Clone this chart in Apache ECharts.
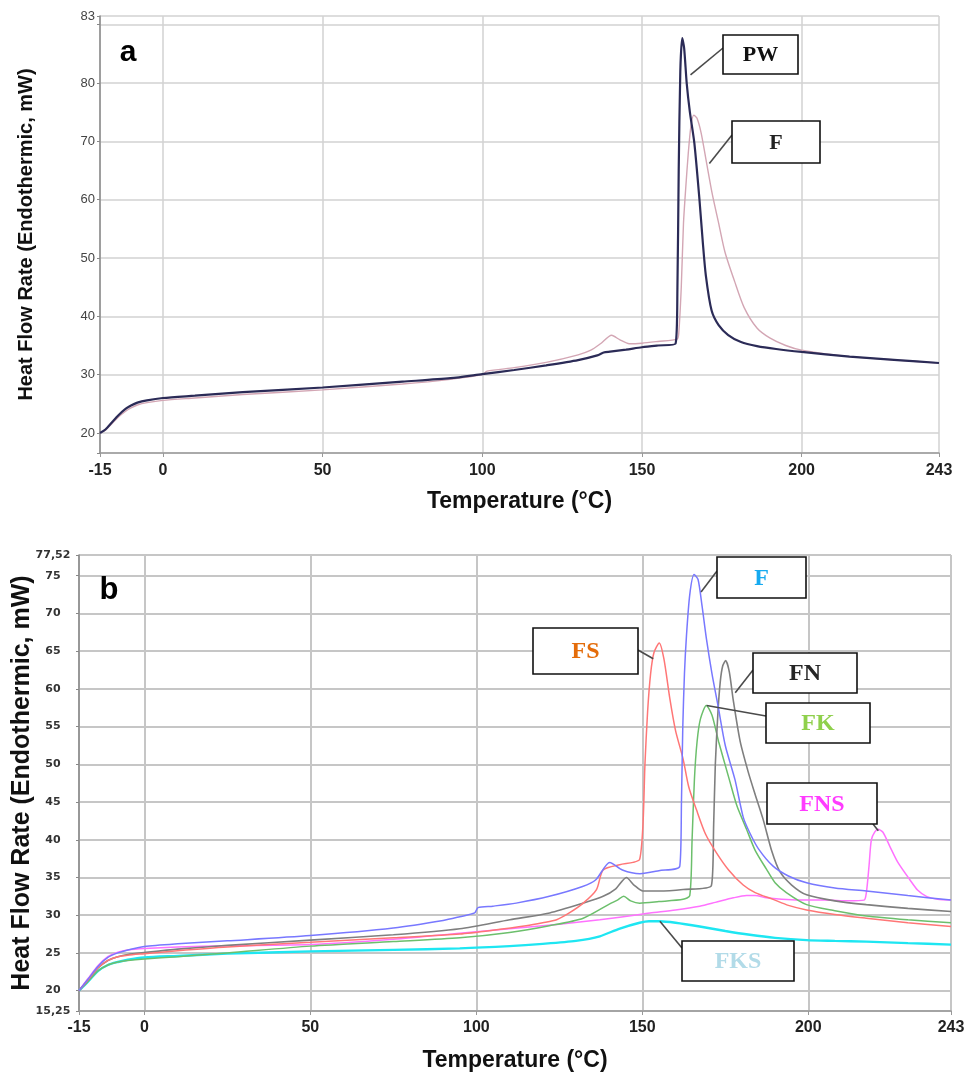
<!DOCTYPE html>
<html>
<head>
<meta charset="utf-8">
<script src="https://cdn.jsdelivr.net/npm/echarts@6/dist/echarts.min.js"></script>
<style>
html, body { margin: 0; padding: 0; background: #fff; }
#chart { width: 969px; height: 1079px; }
</style>
</head>
<body>
<div id="chart"></div>
<script>
// axis ticks (the source chart labels its ends oddly: "-15", "83", "15,25", "77,52")
var xTicks = [-19.7, 0, 50, 100, 150, 200, 243];
var xTickLabels = ['-15', '0', '50', '100', '150', '200', '243'];
var aYTicks = [16.57, 20, 30, 40, 50, 60, 70, 80, 90, 91.5];
var aYTickLabels = ['', '20', '30', '40', '50', '60', '70', '80', '', '83'];
var bYTicks = [17.3, 20, 25, 30, 35, 40, 45, 50, 55, 60, 65, 70, 75, 77.75];
var bYTickLabels = ['15,25', '20', '25', '30', '35', '40', '45', '50', '55', '60', '65', '70', '75', '77,52'];

// panel a
var aPwT = [-19.7, -18, -16, -14, -12, -10, -8, -5, 0, 10, 25, 50, 75, 90, 100, 110, 120, 130, 136, 138, 140, 145, 150, 155, 160.5, 161.1, 161.5, 162, 162.6, 163.2, 164, 165, 166.4, 168, 169, 170, 171.8, 174, 177, 181, 186, 192, 200, 215, 230, 243];
var aPwY = [20, 20.6, 21.8, 23, 24, 24.7, 25.2, 25.6, 26.0, 26.4, 27.0, 27.8, 28.8, 29.4, 30.1, 30.8, 31.6, 32.5, 33.3, 33.8, 33.95, 34.3, 34.7, 35.0, 35.3, 45, 65, 82, 87.7, 86, 80, 75, 69.7, 60, 53, 47, 41, 38.5, 36.8, 35.6, 34.9, 34.4, 33.9, 33.1, 32.5, 32.0];
var aFT = [-19.7, -18, -16, -14, -12, -10, -8, -5, 0, 10, 25, 50, 75, 90, 100, 101.5, 110, 120, 130, 134, 137, 140.5, 143, 146, 150, 155, 161, 161.5, 162.3, 163, 163.7, 164.5, 165.3, 166.2, 167.2, 168.5, 170, 172, 174, 176, 179, 182, 186, 190, 195, 200, 215, 230, 243];
var aFY = [20, 20.5, 21.6, 22.7, 23.6, 24.3, 24.8, 25.2, 25.6, 26.0, 26.6, 27.4, 28.4, 29.2, 30.0, 30.6, 31.2, 32.1, 33.4, 34.2, 35.3, 36.75, 36.0, 35.3, 35.4, 35.7, 36.1, 37, 45, 56, 62, 68, 72.5, 74.5, 74, 71.5, 67, 61, 56, 51, 46, 41.5, 38, 36.3, 35, 34.2, 33.1, 32.5, 32.0];

// panel b
var bFT = [-19.7, -17, -14, -11, -8, -5, 0, 10, 25, 50, 75, 90, 95, 99.5, 100.5, 105, 112, 122, 132, 136, 140.2, 144, 149.3, 155, 161.3, 161.8, 162.2, 162.7, 163.3, 164.3, 165.6, 166.8, 168, 169.3, 171, 172.8, 175, 177.9, 180.4, 182.4, 185, 189.4, 194, 199.5, 208, 217.5, 230, 243];
var bFY = [20, 21.5, 23.2, 24.4, 25.0, 25.4, 25.85, 26.2, 26.6, 27.3, 28.3, 29.3, 29.8, 30.3, 31.0, 31.2, 31.6, 32.5, 33.8, 34.7, 37.0, 36.0, 35.5, 35.9, 36.5, 45, 55, 62, 67, 72.5, 75.15, 74.5, 71, 66.7, 62, 57.8, 52.5, 48, 43, 40.9, 38.8, 36.5, 35.2, 34.3, 33.6, 33.2, 32.6, 32.0];
var bFsT = [-19.7, -17, -14, -11, -8, -5, 0, 10, 25, 50, 75, 95, 105, 115, 120, 124.2, 128, 132.2, 136.2, 138.2, 143.2, 147.2, 149.2, 150.2, 150.8, 151.6, 152.5, 153.5, 155.1, 156.5, 158.3, 160, 162.3, 164, 166.3, 169, 172.3, 176, 180.4, 184, 189.4, 194, 199.5, 208, 217.5, 230, 243];
var bFsY = [20, 21.4, 23.0, 24.0, 24.5, 24.7, 24.9, 25.3, 25.8, 26.4, 27.0, 27.5, 28.0, 28.6, 29.0, 29.4, 30.3, 31.6, 33.4, 36.0, 36.7, 37.0, 37.4, 42, 50, 57, 62, 64.8, 66.1, 64, 58.7, 54.5, 50.7, 47, 44.0, 40.8, 38.3, 36.0, 34.0, 33.0, 32.1, 31.3, 30.7, 30.1, 29.6, 29.0, 28.5];
var bFnT = [-19.7, -17, -14, -11, -8, -5, 0, 10, 25, 50, 75, 95, 110.1, 122.1, 132.2, 138.2, 142, 145.2, 147.5, 150.2, 155, 162.3, 170.8, 171.5, 172, 172.8, 173.5, 174.2, 175.1, 176.2, 177.4, 179.5, 181.9, 184, 186.4, 189, 191.4, 195, 199.5, 208, 217.5, 230, 243];
var bFnY = [20, 21.4, 23.0, 24.0, 24.5, 24.8, 25.05, 25.5, 26.0, 26.7, 27.4, 28.2, 29.4, 30.3, 31.6, 32.5, 33.5, 35.0, 34.0, 33.2, 33.2, 33.4, 33.9, 42, 50, 57, 61, 63, 63.75, 62.3, 58.5, 53, 49, 46, 42.7, 38.5, 35.8, 34, 32.7, 31.9, 31.4, 30.9, 30.5];
var bFkT = [-19.7, -17, -14, -11, -8, -5, 0, 10, 25, 50, 75, 95, 110, 122, 132.2, 140.2, 142.5, 144.4, 146.5, 149.2, 155, 162.3, 164.3, 165, 165.7, 166.5, 167.5, 169.3, 171, 173, 176.2, 178.5, 181.4, 184, 187.4, 190, 193.4, 199.5, 208, 217.5, 230, 243];
var bFkY = [20, 21.2, 22.6, 23.4, 23.8, 24.0, 24.2, 24.5, 25.0, 25.9, 26.5, 27.0, 27.7, 28.6, 29.6, 31.5, 32.0, 32.5, 31.9, 31.6, 31.8, 32.1, 32.6, 40, 48, 53, 56, 57.8, 56.5, 53, 48, 44.5, 41.4, 38.6, 36.1, 34.3, 33.0, 31.4, 30.6, 29.9, 29.4, 29.0];
var bFnsT = [-19.7, -17, -14, -11, -8, -5, 0, 10, 25, 50, 75, 95, 110, 125, 137.2, 149.2, 152.3, 160, 167.3, 172, 177.4, 181.4, 184, 187.4, 192, 197.4, 205, 212, 216.8, 217.5, 218.3, 219, 220, 221, 222.5, 224.6, 227, 230.6, 233, 235.6, 239, 243];
var bFnsY = [20, 21.6, 23.3, 24.5, 25.1, 25.4, 25.6, 25.8, 25.95, 26.1, 26.8, 27.6, 28.2, 28.8, 29.4, 30.1, 30.3, 30.7, 31.2, 31.7, 32.3, 32.6, 32.6, 32.3, 32.1, 32.0, 32.0, 31.9, 32.0, 33.0, 36.5, 40.0, 41.0, 41.4, 41.0, 39.1, 37, 34.7, 33.3, 32.5, 32.1, 32.0];
var bFksT = [-19.7, -17, -14, -11, -8, -5, 0, 10, 25, 50, 75, 95, 110, 120, 130, 137.2, 143, 149.2, 152, 155.3, 160, 167.3, 175, 182.4, 190, 199.5, 208, 217.5, 230, 243];
var bFksY = [20, 21.2, 22.6, 23.4, 23.8, 24.1, 24.4, 24.6, 24.9, 25.2, 25.4, 25.6, 25.9, 26.2, 26.6, 27.2, 28.2, 29.0, 29.2, 29.2, 29.0, 28.5, 27.9, 27.4, 27.0, 26.7, 26.6, 26.5, 26.3, 26.1];

function pairs(t, y) {
    return t.map(function (v, i) { return [v, y[i]]; });
}

function tickFormatter(values, labels) {
    return function (v) {
        for (var i = 0; i < values.length; i++) {
            if (Math.abs(values[i] - v) < 1e-6) return labels[i];
        }
        return '';
    };
}

var SANS = '"Liberation Sans", Arial, sans-serif';
var SERIF = '"Liberation Serif", "Times New Roman", serif';

function xAxisFor(gi, nameGap, labelMargin, gridColor, gridWidth) {
    return {
        type: 'value', gridIndex: gi, min: xTicks[0], max: xTicks[xTicks.length - 1],
        name: 'Temperature (°C)', nameLocation: 'middle', nameGap: nameGap, nameMoveOverlap: false,
        nameTextStyle: { fontFamily: SANS, fontWeight: 'bold', fontSize: 23, color: '#111' },
        axisLine: { show: true, onZero: false, lineStyle: { color: '#999', width: 1.5 } },
        axisTick: { show: true, customValues: xTicks, length: 4, lineStyle: { color: '#999' } },
        axisLabel: {
            customValues: xTicks, formatter: tickFormatter(xTicks, xTickLabels),
            margin: labelMargin, fontFamily: SANS, fontWeight: 'bold', fontSize: 16, color: '#222'
        },
        splitLine: { show: true, lineStyle: { color: gridColor, width: gridWidth } }
    };
}

function line(name, gi, t, y, color, width) {
    return {
        name: name, type: 'line', xAxisIndex: gi, yAxisIndex: gi,
        data: pairs(t, y), showSymbol: false, smooth: 0.25,
        lineStyle: { color: color, width: width }, itemStyle: { color: color },
        silent: true
    };
}

var chart = echarts.init(document.getElementById('chart'), null, { renderer: 'canvas' });
chart.setOption({
    backgroundColor: '#fff',
    animation: false,
    grid: [
        { left: 100, top: 16, width: 839, height: 437, outerBoundsMode: 'none' },
        { left: 79, top: 555, width: 872, height: 456, outerBoundsMode: 'none' }
    ],
    xAxis: [
        xAxisFor(0, 37, 10, '#d2d2d2', 1.5),
        xAxisFor(1, 38, 9, '#c6c6c6', 2)
    ],
    yAxis: [
        {
            type: 'value', gridIndex: 0, min: aYTicks[0], max: aYTicks[aYTicks.length - 1],
            name: 'Heat Flow Rate (Endothermic, mW)', nameLocation: 'middle', nameGap: 64, nameMoveOverlap: false,
            nameTextStyle: { fontFamily: SANS, fontWeight: 'bold', fontSize: 20, color: '#111' },
            axisLine: { show: true, onZero: false, lineStyle: { color: '#888', width: 1.5 } },
            axisTick: { show: true, customValues: aYTicks, length: 3, lineStyle: { color: '#888' } },
            axisLabel: {
                customValues: aYTicks, formatter: tickFormatter(aYTicks, aYTickLabels),
                margin: 5, fontFamily: SANS, fontSize: 13, color: '#444'
            },
            splitLine: { show: true, lineStyle: { color: '#d2d2d2', width: 1.5 } }
        },
        {
            type: 'value', gridIndex: 1, min: bYTicks[0], max: bYTicks[bYTicks.length - 1],
            name: 'Heat Flow Rate (Endothermic, mW)', nameLocation: 'middle', nameGap: 44, nameMoveOverlap: false,
            nameTextStyle: { fontFamily: SANS, fontWeight: 'bold', fontSize: 25, color: '#111' },
            axisLine: { show: true, onZero: false, lineStyle: { color: '#888', width: 1.5 } },
            axisTick: { show: true, customValues: bYTicks, length: 3, lineStyle: { color: '#888' } },
            axisLabel: {
                customValues: bYTicks, formatter: tickFormatter(bYTicks, bYTickLabels),
                margin: 26, align: 'center', fontFamily: '"DejaVu Sans", Verdana, sans-serif',
                fontWeight: 'bold', fontSize: 11, color: '#333'
            },
            splitLine: { show: true, lineStyle: { color: '#c6c6c6', width: 2 } }
        }
    ],
    series: [
        line('F', 0, aFT, aFY, '#d3a6b4', 1.4),
        line('PW', 0, aPwT, aPwY, '#2b2b57', 2.2),
        line('FKS', 1, bFksT, bFksY, '#1ee6f2', 2.4),
        line('FNS', 1, bFnsT, bFnsY, '#ff72ff', 1.5),
        line('FK', 1, bFkT, bFkY, '#6cbf6c', 1.5),
        line('FN', 1, bFnT, bFnY, '#7f7f7f', 1.6),
        line('FS', 1, bFsT, bFsY, '#ff7676', 1.5),
        line('F', 1, bFT, bFY, '#7878ff', 1.5)
    ]
});

// callout boxes: box in page pixels, leader line ends on a data point
var callouts = [
    { grid: 0, text: 'PW', color: '#111', size: 22, box: [723, 35, 75, 39], from: [723, 48], at: [165.2, 81.4] },
    { grid: 0, text: 'F', color: '#222', size: 22, box: [732, 121, 88, 42], from: [732, 135], at: [171.1, 66.2] },
    { grid: 1, text: 'F', color: '#16aaf0', size: 24, box: [717, 557, 89, 41], from: [717, 571], at: [167.7, 72.85] },
    { grid: 1, text: 'FS', color: '#e46c0a', size: 24, box: [533, 628, 105, 46], from: [638, 650], at: [153.3, 64.0] },
    { grid: 1, text: 'FN', color: '#262626', size: 24, box: [753, 653, 104, 40], from: [753, 670], at: [178.0, 59.5] },
    { grid: 1, text: 'FK', color: '#8fd04c', size: 24, box: [766, 703, 104, 40], from: [766, 716], at: [169.4, 57.8] },
    { grid: 1, text: 'FNS', color: '#ff3cff', size: 24, box: [767, 783, 110, 41], from: [873, 824], at: [221.1, 41.2] },
    { grid: 1, text: 'FKS', color: '#b2dbe8', size: 24, box: [682, 941, 112, 40], from: [682, 948], at: [155.3, 29.2] }
];

var graphics = [];
callouts.forEach(function (c) {
    var p = chart.convertToPixel({ gridIndex: c.grid }, c.at);
    graphics.push({
        type: 'line', z: 100, silent: true,
        shape: { x1: c.from[0], y1: c.from[1], x2: p[0], y2: p[1] },
        style: { stroke: '#4a4a4a', lineWidth: 1.6 }
    });
    graphics.push({
        type: 'rect', z: 101, silent: true,
        shape: { x: c.box[0], y: c.box[1], width: c.box[2], height: c.box[3] },
        style: { fill: '#fff', stroke: '#111', lineWidth: 1.6 }
    });
    graphics.push({
        type: 'text', z: 102, silent: true,
        style: {
            text: c.text, x: c.box[0] + c.box[2] / 2, y: c.box[1] + c.box[3] / 2 + 1,
            align: 'center', verticalAlign: 'middle',
            font: 'bold ' + c.size + 'px ' + SERIF, fill: c.color
        }
    });
});
graphics.push({
    type: 'text', z: 102, silent: true,
    style: { text: 'a', x: 128, y: 53, align: 'center', verticalAlign: 'middle', font: 'bold 30px ' + SANS, fill: '#000' }
});
graphics.push({
    type: 'text', z: 102, silent: true,
    style: { text: 'b', x: 109, y: 590, align: 'center', verticalAlign: 'middle', font: 'bold 31px ' + SANS, fill: '#000' }
});
chart.setOption({ graphic: graphics });
</script>
</body>
</html>
